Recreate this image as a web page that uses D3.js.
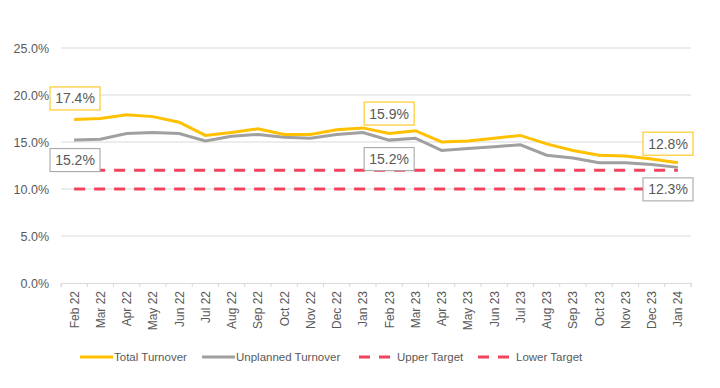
<!DOCTYPE html>
<html>
<head>
<meta charset="utf-8">
<script src="https://cdn.jsdelivr.net/npm/d3@7"></script>
<style>
  body { margin: 0; background: #fff; }
  text { font-family: "Liberation Sans", Arial, sans-serif; }
</style>
</head>
<body>
<svg id="chart"></svg>
<script>
// months on the x axis
const months = ["Feb 22", "Mar 22", "Apr 22", "May 22", "Jun 22", "Jul 22", "Aug 22", "Sep 22",
    "Oct 22", "Nov 22", "Dec 22", "Jan 23", "Feb 23", "Mar 23", "Apr 23", "May 23", "Jun 23",
    "Jul 23", "Aug 23", "Sep 23", "Oct 23", "Nov 23", "Dec 23", "Jan 24"];
// turnover, in %
const totalTurnover = [17.4, 17.5, 17.9, 17.7, 17.1, 15.7, 16.0, 16.4, 15.8, 15.8, 16.3, 16.5,
    15.9, 16.2, 15.0, 15.1, 15.4, 15.7, 14.8, 14.1, 13.6, 13.5, 13.2, 12.8];
const unplannedTurnover = [15.2, 15.3, 15.9, 16.0, 15.9, 15.1, 15.6, 15.8, 15.5, 15.4, 15.8, 16.0,
    15.2, 15.4, 14.1, 14.3, 14.5, 14.7, 13.6, 13.3, 12.8, 12.8, 12.6, 12.3];
const upperTarget = 12;
const lowerTarget = 10;
const yTicks = [0, 5, 10, 15, 20, 25];
// months that carry a data label
const labelledMonths = ["Feb 22", "Feb 23", "Jan 24"];

const width = 720, height = 388;
const marginL = 61, marginR = 691, plotTop = 48, plotBottom = 283;

const colTotal = "#FFC000", colUnpl = "#A0A0A0", colTarget = "#F0435C";
const txt = "#595959";

let svg = d3.select("#chart").attr("width", width).attr("height", height);

let scaleX = d3.scaleBand().domain(months).range([marginL, marginR]);
let scaleY = d3.scaleLinear().domain([0, 25]).range([plotBottom, plotTop]);
const cx = m => scaleX(m) + scaleX.bandwidth() / 2;

// grid lines
svg.append("g").selectAll("line")
    .data(yTicks.filter(d => d > 0))
    .enter().append("line")
    .attr("x1", marginL).attr("x2", marginR)
    .attr("y1", d => scaleY(d)).attr("y2", d => scaleY(d))
    .attr("stroke", "#D9D9D9").attr("stroke-width", 1);

// y axis labels
svg.append("g").selectAll("text")
    .data(yTicks)
    .enter().append("text")
    .attr("x", 49).attr("y", d => scaleY(d) + 4.5)
    .attr("text-anchor", "end")
    .attr("font-size", 12.5).attr("fill", txt)
    .text(d => d.toFixed(1) + "%");

// x axis
let axisX = d3.axisBottom(scaleX).tickSize(0).tickSizeOuter(4).tickValues([]);
let gx = svg.append("g").attr("transform", `translate(0, ${plotBottom})`).call(axisX);
gx.select(".domain").attr("stroke", "#D9D9D9");
gx.selectAll("line.edge")
    .data(d3.range(months.length + 1))
    .enter().append("line")
    .attr("class", "edge")
    .attr("x1", i => marginL + i * scaleX.step())
    .attr("x2", i => marginL + i * scaleX.step())
    .attr("y1", 0).attr("y2", 4)
    .attr("stroke", "#D9D9D9");
gx.selectAll("text.month")
    .data(months)
    .enter().append("text")
    .attr("class", "month")
    .attr("transform", d => `translate(${cx(d) + 4.5}, 8) rotate(-90)`)
    .attr("text-anchor", "end")
    .attr("font-size", 12).attr("fill", txt)
    .text(d => d);

// target lines
[upperTarget, lowerTarget].forEach(t => {
    svg.append("line")
        .attr("x1", cx(months[0])).attr("x2", cx(months[months.length - 1]))
        .attr("y1", scaleY(t)).attr("y2", scaleY(t))
        .attr("stroke", colTarget).attr("stroke-width", 3)
        .attr("stroke-dasharray", "11,9");
});

// series
let line = d3.line().x((d, i) => cx(months[i])).y(d => scaleY(d));
svg.append("path").datum(unplannedTurnover)
    .attr("d", line).attr("fill", "none")
    .attr("stroke", colUnpl).attr("stroke-width", 3);
svg.append("path").datum(totalTurnover)
    .attr("d", line).attr("fill", "none")
    .attr("stroke", colTotal).attr("stroke-width", 3);

// data labels
function dataLabel(x, y, value, color) {
    let g = svg.append("g").attr("transform", `translate(${x}, ${y})`);
    g.append("rect")
        .attr("x", -25).attr("y", -11.5).attr("width", 50).attr("height", 23)
        .attr("fill", "#fff").attr("stroke", color).attr("stroke-width", 1);
    g.append("text")
        .attr("y", 5).attr("text-anchor", "middle")
        .attr("font-size", 14).attr("fill", txt)
        .text(value.toFixed(1) + "%");
}
labelledMonths.forEach(m => {
    let i = months.indexOf(m);
    let x = cx(m), dyTop = -20, dyBot = 19;
    if (i === 0) { x = 75; dyTop = -21; dyBot = 20; }
    if (i === months.length - 1) { x = 668; dyTop = -19; dyBot = 22; }
    dataLabel(x, scaleY(totalTurnover[i]) + dyTop, totalTurnover[i], colTotal);
    dataLabel(x, scaleY(unplannedTurnover[i]) + dyBot, unplannedTurnover[i], colUnpl);
});

// legend
const legend = [
    { name: "Total Turnover", color: colTotal, dash: null, x: 80 },
    { name: "Unplanned Turnover", color: colUnpl, dash: null, x: 202 },
    { name: "Upper Target", color: colTarget, dash: "11,9", x: 359 },
    { name: "Lower Target", color: colTarget, dash: "11,9", x: 478 }
];
let lg = svg.append("g").selectAll("g")
    .data(legend).enter().append("g")
    .attr("transform", d => `translate(${d.x}, 357)`);
lg.append("line")
    .attr("x1", 0).attr("x2", d => d.dash ? 31 : 33)
    .attr("stroke", d => d.color).attr("stroke-width", 3)
    .attr("stroke-dasharray", d => d.dash);
lg.append("text")
    .attr("x", d => d.dash ? 38 : 34).attr("y", 4)
    .attr("font-size", 11.5).attr("fill", txt)
    .text(d => d.name);
</script>
</body>
</html>
